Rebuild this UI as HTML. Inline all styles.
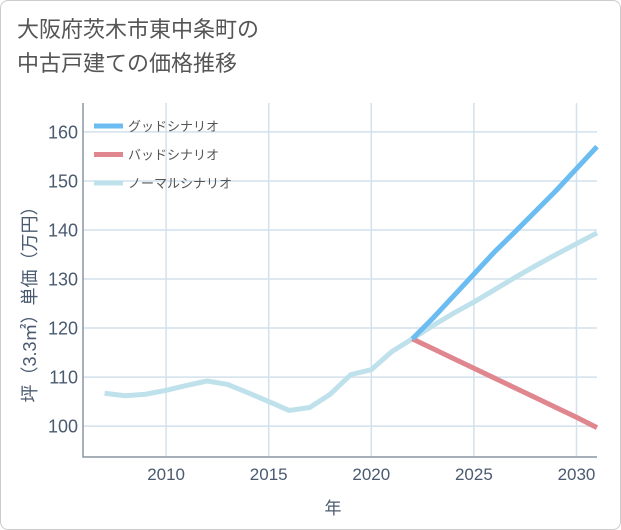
<!DOCTYPE html>
<html><head><meta charset="utf-8"><style>
body{margin:0;background:#fff;}
#wrap{position:relative;width:619px;height:528px;border:1px solid #ccc;border-radius:8px;overflow:hidden;background:#fff;font-family:"Liberation Sans","Noto Sans CJK JP",sans-serif;}
#title{position:absolute;left:16px;top:12px;font-size:22px;line-height:34px;color:#555;}
</style></head><body>
<div id="wrap">
<div id="title">大阪府茨木市東中条町の<br>中古戸建ての価格推移</div>
<svg id="chart" width="621" height="530" style="position:absolute;left:-1px;top:-1px"></svg>
</div>
<script>
const years=[2007,2008,2009,2010,2011,2012,2013,2014,2015,2016,2017,2018,2019,2020,2021,2022,2023,2024,2025,2026,2027,2028,2029,2030,2031];
const normalValues=[106.7,106.2,106.5,107.3,108.3,109.2,108.5,106.8,105,103.2,103.8,106.5,110.5,111.5,115.2,117.8,120.5,123,125.3,127.8,130.3,132.7,135,137.2,139.4];
const futureYears=[2022,2023,2024,2025,2026,2027,2028,2029,2030,2031];
const goodValues=[117.8,122,126.5,131,135.5,139.6,143.8,148,152.5,157];
const badValues=[117.8,115.8,113.8,111.8,109.8,107.8,105.8,103.8,101.8,99.7];
const xTicks=[2010,2015,2020,2025,2030];
const yTicks=[100,110,120,130,140,150,160];
const legendLabels=["グッドシナリオ","バッドシナリオ","ノーマルシナリオ"];
const legendColors=["#6bbcf0","#e0868e","#bfe1ec"];

const L=83,R=597,T=103,B=457;
const X=y=>L+(y-2005.95)*(R-L)/(2031-2005.95);
const Y=v=>B-(v-93.7)*(B-T)/(165.9-93.7);
const svg=document.getElementById('chart');
const NS='http://www.w3.org/2000/svg';
function mk(tag,attrs){const e=document.createElementNS(NS,tag);for(const k in attrs)e.setAttribute(k,attrs[k]);svg.appendChild(e);return e;}
xTicks.forEach(t=>{const l=mk('line',{x1:X(t),x2:X(t),y1:T,y2:B,stroke:'#d3e1ec','stroke-width':1.5});


const tx=mk('text',{x:X(t),y:B+23,'text-anchor':'middle','font-size':17,fill:'#4a5a70','font-family':'Liberation Sans, sans-serif'});tx.textContent=t;

});
yTicks.forEach(t=>{const l=mk('line',{x1:L,x2:R,y1:Y(t),y2:Y(t),stroke:'#d3e1ec','stroke-width':1.5});


const tx=mk('text',{x:L-5,y:Y(t)+6.5,'text-anchor':'end','font-size':18,fill:'#4a5a70','font-family':'Liberation Sans, sans-serif'});tx.textContent=t;

});
const ax=mk('path',{d:`M${L},${T}V${B}H${R}`,fill:'none',stroke:'#8a96a3','stroke-width':1.5});


function line(xs,vs,color,name){const p=mk('polyline',{points:xs.map((x,i)=>X(x)+','+Y(vs[i])).join(' '),fill:'none',stroke:color,'stroke-width':5,'stroke-linejoin':'round'});

}
line(years,normalValues,legendColors[2],'normal-scenario-line');
line(futureYears,badValues,legendColors[1],'bad-scenario-line');
line(futureYears,goodValues,legendColors[0],'good-scenario-line');
legendLabels.forEach((lab,i)=>{const y=126+i*28.5;
const l=mk('line',{x1:94,x2:123,y1:y,y2:y,stroke:legendColors[i],'stroke-width':5});


const t=mk('text',{x:128,y:y+5,'font-size':13,fill:'#555','font-family':'Liberation Sans, Noto Sans CJK JP, sans-serif'});t.textContent=lab;

});
const xt=mk('text',{x:333,y:514,'text-anchor':'middle','font-size':17,fill:'#4a5a70','font-family':'Liberation Sans, Noto Sans CJK JP, sans-serif'});xt.textContent='年';


const yt=mk('text',{x:0,y:0,'text-anchor':'middle','font-size':18,fill:'#4a5a70',transform:'translate(36,300) rotate(-90)','font-family':'Liberation Sans, Noto Sans CJK JP, sans-serif'});yt.textContent='坪（3.3㎡）単価（万円）';


</script>
</body></html>
